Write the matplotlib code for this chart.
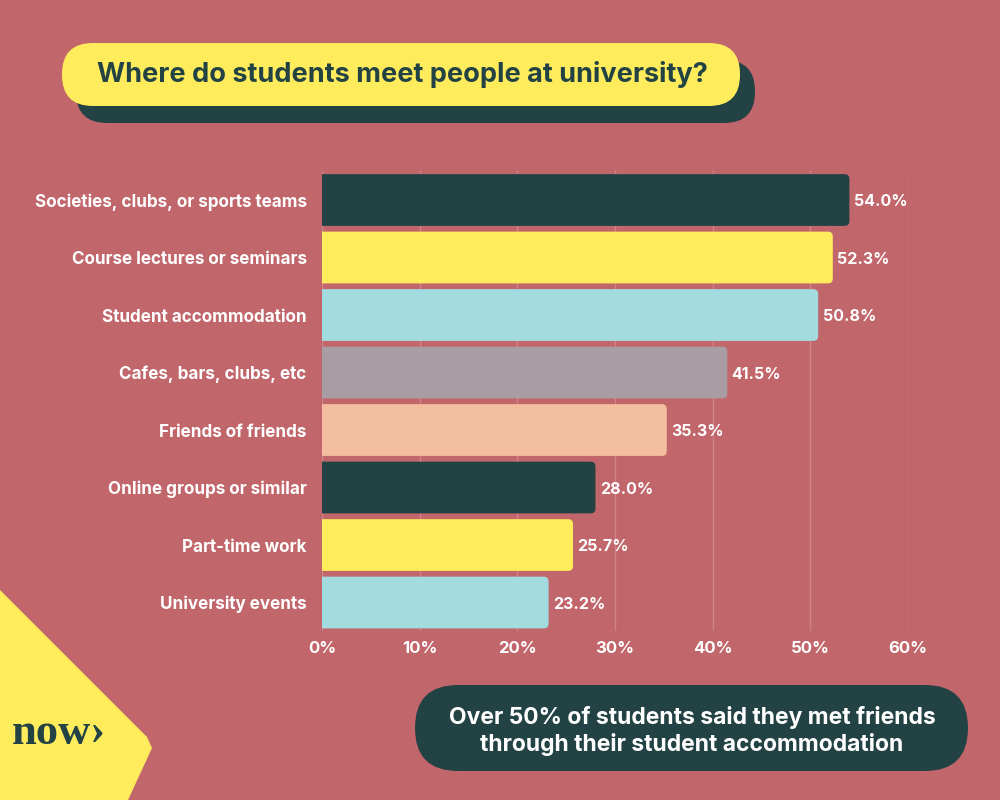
import matplotlib.pyplot as plt
from matplotlib.patches import FancyBboxPatch, Polygon

categories = ['Societies, clubs, or sports teams', 'Course lectures or seminars',
              'Student accommodation', 'Cafes, bars, clubs, etc', 'Friends of friends',
              'Online groups or similar', 'Part-time work', 'University events']
values = [54.0, 52.3, 50.8, 41.5, 35.3, 28.0, 25.7, 23.2]
bar_colors = ['#224244', '#FFEC5C', '#A3DCE0', '#A89DA3', '#F4BFA0',
              '#224244', '#FFEC5C', '#A3DCE0']
ticks = [0, 10, 20, 30, 40, 50, 60]

bg = '#C1666B'
dark = '#224244'
yellow = '#FFEC5C'
font = 'Inter'

fig = plt.figure(figsize=(10, 8), dpi=100)
fig.patch.set_facecolor(bg)

# decoration layer in pixel coords
deco = fig.add_axes([0, 0, 1, 1], zorder=0)
deco.set_xlim(0, 1000)
deco.set_ylim(800, 0)
deco.axis('off')

# title pill with shadow
deco.add_patch(FancyBboxPatch((76, 60), 679, 63,
                              boxstyle='round,pad=0,rounding_size=31', fc=dark, ec='none'))
deco.add_patch(FancyBboxPatch((62, 43), 678, 63,
                              boxstyle='round,pad=0,rounding_size=31', fc=yellow, ec='none'))
deco.text(402, 75, 'Where do students meet people at university?', ha='center', va='center',
          fontsize=19.5, fontweight='bold', color=dark, family=font)

# bottom right note
deco.add_patch(FancyBboxPatch((415, 685), 553, 86,
                              boxstyle='round,pad=0,rounding_size=43', fc=dark, ec='none'))
deco.text(692, 731, 'Over 50% of students said they met friends\nthrough their student accommodation',
          ha='center', va='center', fontsize=16.5, fontweight='bold', color='white',
          family=font, linespacing=1.25)

# bottom left yellow corner
deco.add_patch(Polygon([(0, 590), (147, 737), (152, 748), (128, 800), (0, 800)],
                       closed=True, fc=yellow, ec='none'))
deco.text(12, 733, 'now\u203a', ha='left', va='center', fontsize=32, color=dark,
          fontweight='bold', family='Liberation Serif')

# chart
ax = fig.add_axes([0.322, 0.2109, 0.586, 0.575], zorder=1)
ax.set_facecolor('none')
ax.set_xlim(0, 60)
ax.set_ylim(len(values) - 0.5, -0.5)

h = 0.9
for i, (v, c) in enumerate(zip(values, bar_colors)):
    bar = FancyBboxPatch((-2, i - h / 2), v + 2, h,
                         boxstyle='round,pad=0,rounding_size=0.5',
                         mutation_aspect=0.17, fc=c, ec='none', zorder=2)
    ax.add_patch(bar)
    ax.text(v + 0.45, i + 0.03, f'{v:.1f}%', ha='left', va='center', fontsize=11.5,
            fontweight='bold', color='white', family=font, zorder=3)

ax.set_yticks(range(len(categories)))
ax.set_yticklabels(categories)
ax.set_xticks(ticks)
ax.set_xticklabels([f'{t}%' for t in ticks])
for lab in ax.get_yticklabels():
    lab.set_fontsize(12.3)
for lab in ax.get_xticklabels():
    lab.set_fontsize(12)
for lab in ax.get_yticklabels() + ax.get_xticklabels():
    lab.set_fontweight('bold')
    lab.set_color('white')
    lab.set_family(font)
ax.tick_params(axis='both', length=0)
ax.tick_params(axis='y', pad=11)
ax.tick_params(axis='x', pad=7)
ax.grid(axis='x', color='#D08488', linewidth=1, zorder=0)
ax.set_axisbelow(True)
for s in ax.spines.values():
    s.set_visible(False)

fig.savefig('out.png', dpi=100, facecolor=bg)
